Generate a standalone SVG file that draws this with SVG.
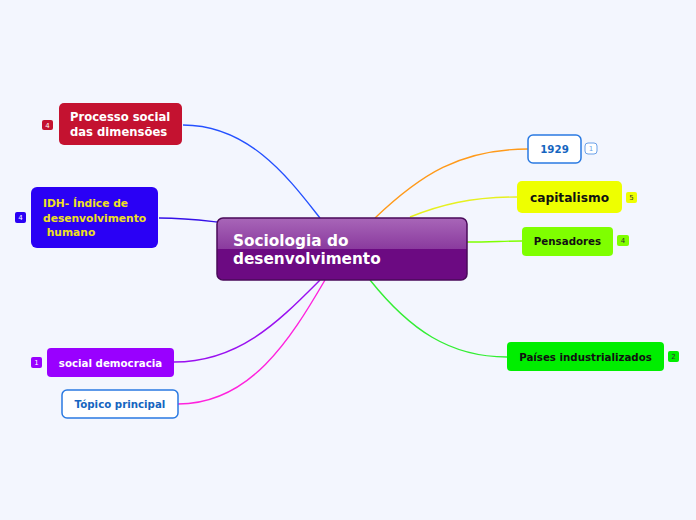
<svg xmlns="http://www.w3.org/2000/svg" width="696" height="520" viewBox="0 0 696 520">
<defs>
<linearGradient id="cg" x1="0" y1="0" x2="0" y2="1">
<stop offset="0" stop-color="#a866b8"/>
<stop offset="0.5" stop-color="#8a3a9e"/>
<stop offset="0.5" stop-color="#6c0a82"/>
<stop offset="1" stop-color="#6c0a82"/>
</linearGradient>
</defs>
<style>
text{font-family:"DejaVu Sans","Liberation Sans",sans-serif;font-weight:bold}
.c{fill:none;stroke-width:1.4}
.b{font-size:7px;font-weight:normal}
.t{font-size:10.25px}
</style>
<rect width="696" height="520" fill="#f3f6fe"/>
<g id="connectors">
<path class="c" stroke="#2450ff" d="M183,125 C250,125 290,180 320,218"/>
<path class="c" stroke="#3510e8" d="M159,218 C185,218 200,220 217,222"/>
<path class="c" stroke="#ff9a1a" d="M375,218 C420,175 460,149 528,149"/>
<path class="c" stroke="#e6f020" d="M410,217 C440,205 470,197 517,197"/>
<path class="c" stroke="#7fff00" d="M467,242 C490,242 505,241 522,241"/>
<path class="c" stroke="#33ee33" d="M370,280 C410,330 450,357 507,357"/>
<path class="c" stroke="#9a10f0" d="M174,362 C240,362 280,320 320,280"/>
<path class="c" stroke="#ff22dd" d="M178,404 C250,404 290,340 325,280"/>
</g>
<g id="central">
<rect x="217" y="218" width="250" height="62" rx="6" fill="url(#cg)" stroke="#4a0a5a" stroke-width="1.5"/>
<text x="233" y="246" font-size="15.3" fill="#fff">Sociologia do</text>
<text x="233" y="264" font-size="15.3" fill="#fff">desenvolvimento</text>
</g>
<g id="processo">
<rect x="59" y="103" width="123" height="42" rx="5" fill="#c41230"/>
<text x="70" y="121" font-size="11.6" fill="#fff">Processo social</text>
<text x="70" y="136" font-size="11.6" fill="#fff">das dimensões</text>
<rect x="42" y="120" width="11" height="10" rx="2" fill="#c41230"/>
<text class="b" x="47.5" y="127.5" fill="#fff" text-anchor="middle">4</text>
</g>
<g id="idh">
<rect x="31" y="187" width="127" height="61" rx="6" fill="#2a00f5"/>
<text x="43" y="207" font-size="10.7" fill="#f0e020">IDH- Índice de</text>
<text x="43" y="222" font-size="10.7" fill="#f0e020">desenvolvimento</text>
<text x="43" y="236" font-size="10.7" fill="#f0e020" xml:space="preserve"> humano</text>
<rect x="15" y="212" width="11" height="11" rx="2" fill="#2a00f5"/>
<text class="b" x="20.5" y="220" fill="#fff" text-anchor="middle">4</text>
</g>
<g id="n1929">
<rect x="528" y="135" width="53" height="28" rx="5" fill="#fff" stroke="#2a7ae2" stroke-width="1.5"/>
<text class="t" x="554.5" y="153" fill="#1565c0" text-anchor="middle">1929</text>
<rect x="585" y="143" width="12" height="11" rx="3" fill="#fff" stroke="#6aa0e8"/>
<text class="b" x="591" y="151" fill="#6aa0e8" text-anchor="middle">1</text>
</g>
<g id="capitalismo">
<rect x="517" y="181" width="105" height="32" rx="5" fill="#eeff00"/>
<text x="569.5" y="202" font-size="12.2" fill="#111" text-anchor="middle">capitalismo</text>
<rect x="626" y="192" width="11" height="11" rx="2" fill="#eeff00"/>
<text class="b" x="631.5" y="200" fill="#333" text-anchor="middle">5</text>
</g>
<g id="pensadores">
<rect x="522" y="227" width="91" height="29" rx="4" fill="#7fff00"/>
<text class="t" x="567.5" y="245" fill="#111" text-anchor="middle">Pensadores</text>
<rect x="617" y="235" width="12" height="11" rx="2" fill="#7fff00"/>
<text class="b" x="623" y="243" fill="#333" text-anchor="middle">4</text>
</g>
<g id="paises">
<rect x="507" y="342" width="157" height="29" rx="4" fill="#00ee00"/>
<text class="t" x="585.5" y="361" fill="#111" text-anchor="middle">Países industrializados</text>
<rect x="668" y="351" width="11" height="11" rx="2" fill="#00ee00"/>
<text class="b" x="673.5" y="359" fill="#333" text-anchor="middle">2</text>
</g>
<g id="social">
<rect x="47" y="348" width="127" height="29" rx="4" fill="#9900ff"/>
<text class="t" x="110.5" y="366.5" fill="#fff" text-anchor="middle">social democracia</text>
<rect x="31" y="357" width="11" height="11" rx="2" fill="#9900ff"/>
<text class="b" x="36.5" y="365" fill="#fff" text-anchor="middle">1</text>
</g>
<g id="topico">
<rect x="62" y="390" width="116" height="28" rx="5" fill="#fff" stroke="#2a7ae2" stroke-width="1.5"/>
<text class="t" x="120" y="408" fill="#1565c0" text-anchor="middle">Tópico principal</text>
</g>
</svg>
